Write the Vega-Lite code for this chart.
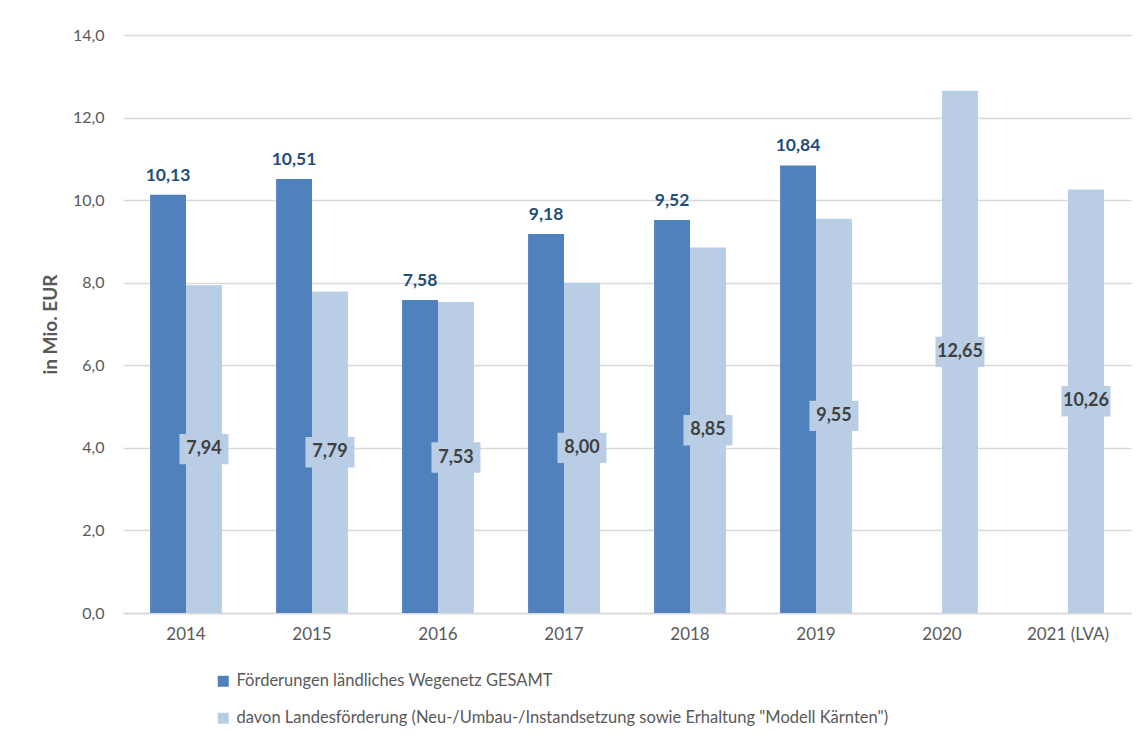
{
  "$schema": "https://vega.github.io/schema/vega-lite/v6.json",
  "width": 1008,
  "height": 578,
  "autosize": "none",
  "padding": {"left": 123, "top": 35, "right": 17, "bottom": 129},
  "background": "white",
  "config": {
    "font": "Lato",
    "locale": {"number": {"decimal": ",", "thousands": ".", "grouping": [3], "currency": ["", " €"]}},
    "view": {"stroke": null},
    "axis": {"labelFont": "Lato", "titleFont": "Lato"}
  },
  "data": {
    "values": [
      {"year": "2014", "series": "Förderungen ländliches Wegenetz GESAMT", "v": 10.13},
      {"year": "2015", "series": "Förderungen ländliches Wegenetz GESAMT", "v": 10.51},
      {"year": "2016", "series": "Förderungen ländliches Wegenetz GESAMT", "v": 7.58},
      {"year": "2017", "series": "Förderungen ländliches Wegenetz GESAMT", "v": 9.18},
      {"year": "2018", "series": "Förderungen ländliches Wegenetz GESAMT", "v": 9.52},
      {"year": "2019", "series": "Förderungen ländliches Wegenetz GESAMT", "v": 10.84},
      {"year": "2014", "series": "davon Landesförderung (Neu-/Umbau-/Instandsetzung sowie Erhaltung \"Modell Kärnten\")", "v": 7.94},
      {"year": "2015", "series": "davon Landesförderung (Neu-/Umbau-/Instandsetzung sowie Erhaltung \"Modell Kärnten\")", "v": 7.79},
      {"year": "2016", "series": "davon Landesförderung (Neu-/Umbau-/Instandsetzung sowie Erhaltung \"Modell Kärnten\")", "v": 7.53},
      {"year": "2017", "series": "davon Landesförderung (Neu-/Umbau-/Instandsetzung sowie Erhaltung \"Modell Kärnten\")", "v": 8.00},
      {"year": "2018", "series": "davon Landesförderung (Neu-/Umbau-/Instandsetzung sowie Erhaltung \"Modell Kärnten\")", "v": 8.85},
      {"year": "2019", "series": "davon Landesförderung (Neu-/Umbau-/Instandsetzung sowie Erhaltung \"Modell Kärnten\")", "v": 9.55},
      {"year": "2020", "series": "davon Landesförderung (Neu-/Umbau-/Instandsetzung sowie Erhaltung \"Modell Kärnten\")", "v": 12.65},
      {"year": "2021 (LVA)", "series": "davon Landesförderung (Neu-/Umbau-/Instandsetzung sowie Erhaltung \"Modell Kärnten\")", "v": 10.26}
    ]
  },
  "encoding": {
    "x": {
      "field": "year",
      "type": "nominal",
      "sort": null,
      "scale": {"paddingInner": 0.43, "paddingOuter": 0.215},
      "axis": {
        "title": null,
        "labelAngle": 0,
        "labelFontSize": 17,
        "labelColor": "#595959",
        "labelPadding": 13,
        "ticks": false,
        "domainColor": "#D9D9D9",
        "domainWidth": 1.5
      }
    },
    "xOffset": {
      "field": "series",
      "type": "nominal",
      "scale": {"domain": ["Förderungen ländliches Wegenetz GESAMT", "davon Landesförderung (Neu-/Umbau-/Instandsetzung sowie Erhaltung \"Modell Kärnten\")"]}
    }
  },
  "layer": [
    {
      "mark": {"type": "bar"},
      "encoding": {
        "y": {
          "field": "v",
          "type": "quantitative",
          "scale": {"domain": [0, 14]},
          "axis": {
            "title": "in Mio. EUR",
            "titleFontSize": 19,
            "titleFontWeight": "bold",
            "titleColor": "#595959",
            "titlePadding": 12,
            "values": [0, 2, 4, 6, 8, 10, 12, 14],
            "format": ".1f",
            "labelFontSize": 16,
            "labelColor": "#595959",
            "labelPadding": 19,
            "ticks": false,
            "domain": false,
            "gridColor": "#D9D9D9",
            "gridWidth": 1.5
          }
        },
        "color": {
          "field": "series",
          "type": "nominal",
          "scale": {
            "domain": ["Förderungen ländliches Wegenetz GESAMT", "davon Landesförderung (Neu-/Umbau-/Instandsetzung sowie Erhaltung \"Modell Kärnten\")"],
            "range": ["#4F81BD", "#B9CDE5"]
          },
          "legend": {
            "title": null,
            "orient": "none",
            "legendX": 92,
            "legendY": 638,
            "direction": "vertical",
            "symbolType": "square",
            "symbolSize": 121,
            "symbolStrokeWidth": 0,
            "labelFontSize": 16.5,
            "labelColor": "#595959",
            "labelLimit": 900,
            "rowPadding": 20,
            "labelOffset": 5,
            "padding": 0
          }
        }
      }
    },
    {
      "transform": [{"filter": "datum.series == 'Förderungen ländliches Wegenetz GESAMT'"}],
      "mark": {"type": "text", "baseline": "alphabetic", "dy": -14, "fontSize": 17.5, "fontWeight": "bold", "color": "#1F4E79"},
      "encoding": {
        "y": {"field": "v", "type": "quantitative"},
        "text": {"field": "v", "type": "quantitative", "format": ".2f"}
      }
    },
    {
      "transform": [
        {"filter": "datum.series != 'Förderungen ländliches Wegenetz GESAMT'"},
        {"calculate": "datum.v / 2", "as": "mid"}
      ],
      "mark": {
        "type": "point",
        "shape": "M-1,-0.62 L1,-0.62 L1,0.62 L-1,0.62 Z",
        "filled": true,
        "opacity": 1,
        "color": "#B9CDE5",
        "size": 2401,
        "strokeWidth": 0
      },
      "encoding": {
        "y": {"field": "mid", "type": "quantitative"}
      }
    },
    {
      "transform": [
        {"filter": "datum.series != 'Förderungen ländliches Wegenetz GESAMT'"},
        {"calculate": "datum.v / 2", "as": "mid"}
      ],
      "mark": {"type": "text", "baseline": "middle", "fontSize": 18, "fontWeight": "bold", "color": "#404040"},
      "encoding": {
        "y": {"field": "mid", "type": "quantitative"},
        "text": {"field": "v", "type": "quantitative", "format": ".2f"}
      }
    }
  ]
}
